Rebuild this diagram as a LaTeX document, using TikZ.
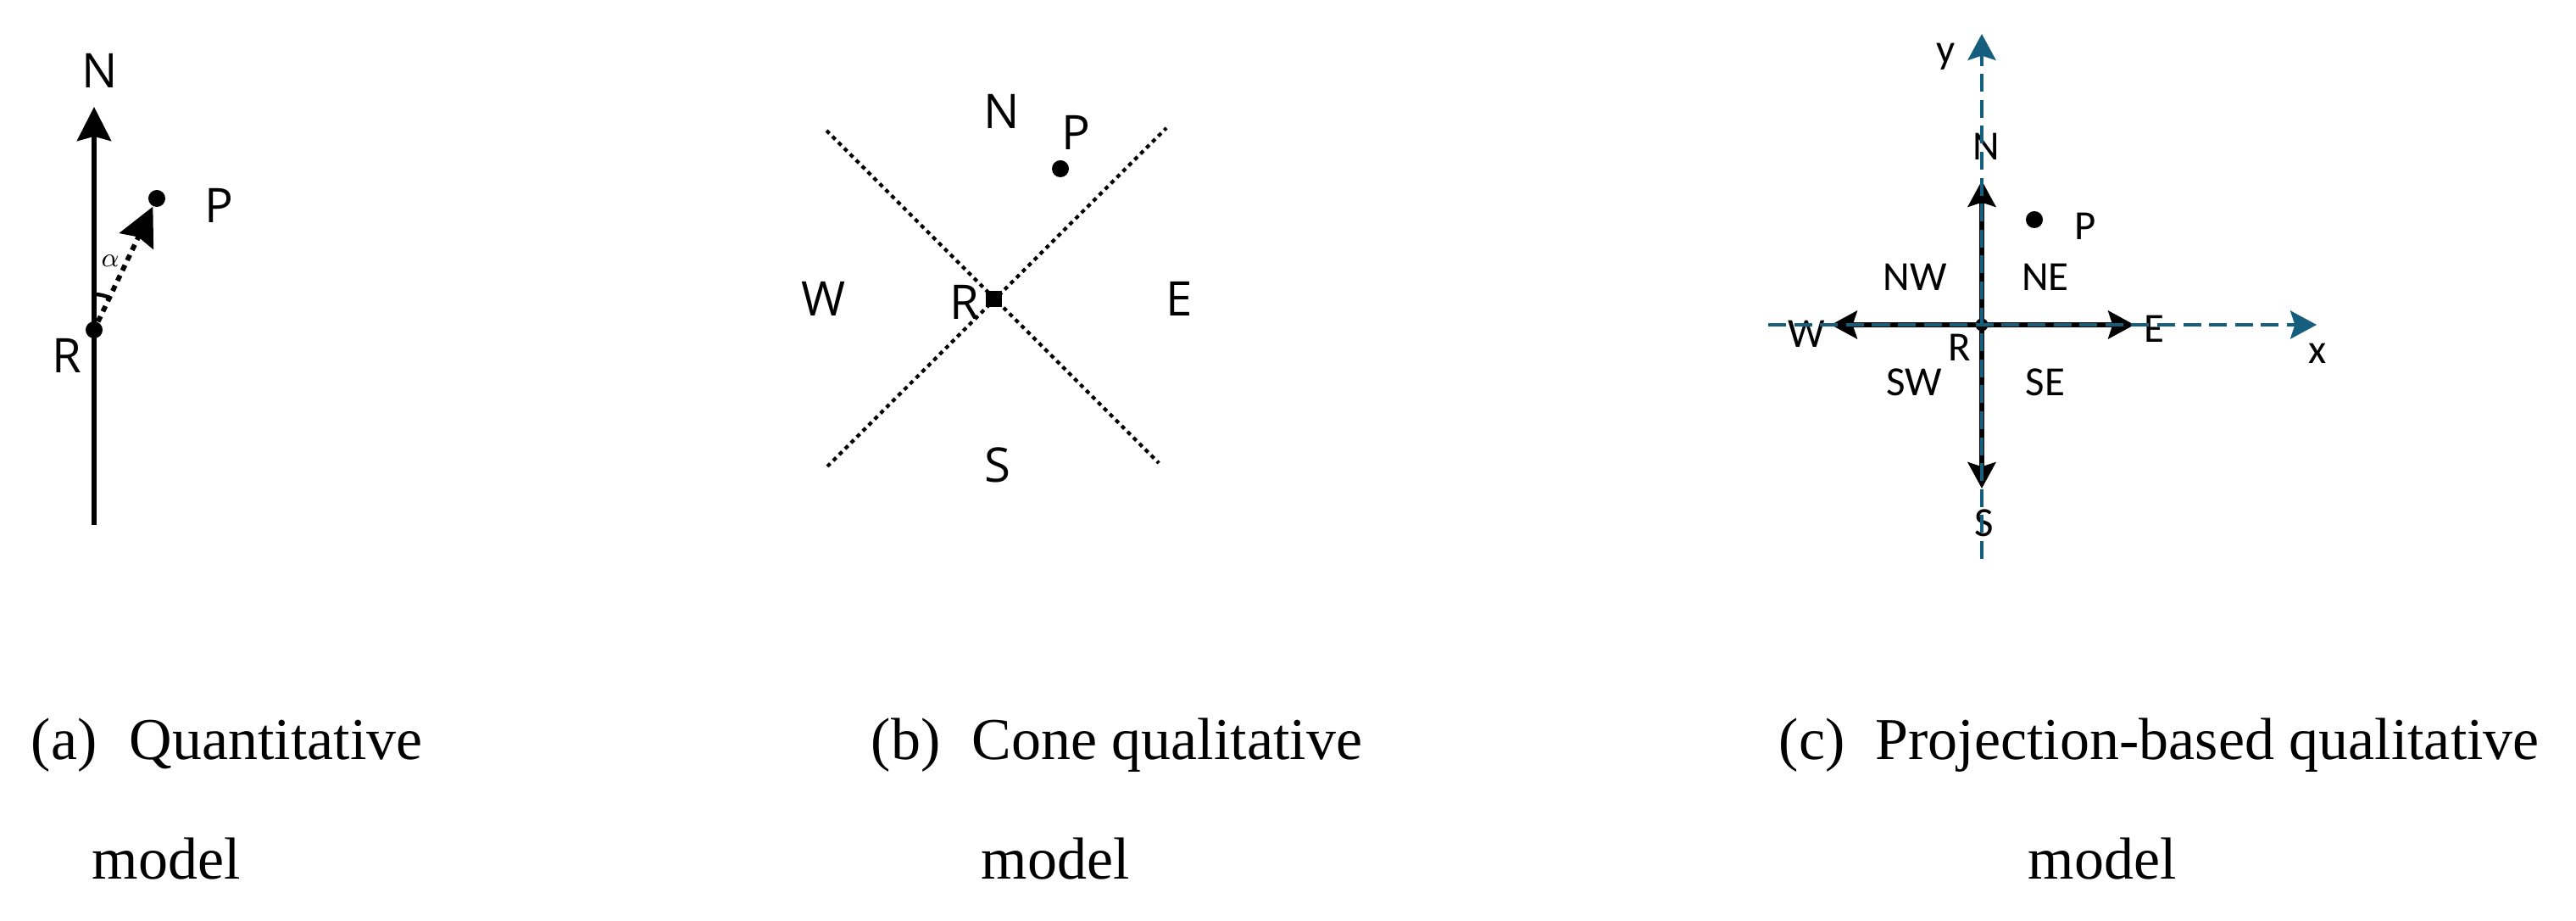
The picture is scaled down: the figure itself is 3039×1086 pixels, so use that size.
\documentclass[tikz,border=0pt]{standalone}
\usepackage{fontspec}
\setmainfont{Liberation Serif}
\newfontfamily\dirfont{Open Sans}
\newfontfamily\projfont{Carlito}
\usetikzlibrary{arrows.meta}
\definecolor{axisblue}{RGB}{22,94,126}

\begin{document}
\begin{tikzpicture}[x=0.01cm,y=-0.01cm,
  caption/.style={font=\fontsize{19.9}{23}\selectfont, inner sep=0pt, anchor=base west},
  dirlabel/.style={font=\dirfont\fontsize{16}{19}\selectfont, inner sep=0pt},
  projlabel/.style={font=\projfont\fontsize{13.9}{16}\selectfont, inner sep=0pt},
  dot/.style={circle, fill=black, inner sep=0pt, minimum size=0.2cm},
  cone/.style={line width=1.2pt, dash pattern=on 1.4pt off 1.4pt},
  dirarrow/.style={line width=1.5pt, -{Stealth[length=8.8pt,width=9.4pt,inset=1.5pt]}},
  axis/.style={axisblue, line width=1.1pt, dash pattern=on 6pt off 2.7pt, -{Stealth[length=8.8pt,width=9.4pt,inset=1.5pt]}}]
				\useasboundingbox (0,0) rectangle (3039,1086);
				
				% (a) quantitative
				\coordinate (aS) at (111,619);
				\coordinate (aN) at (111,126);
				\draw[line width=1.65pt, -{Stealth[length=11.4pt,width=11.4pt,inset=1.5pt]}] (aS) -- (aN);
				\node[dot] (aR) at (111,389) {};
				\node[dot] (aP) at (185,234) {};
				\draw[line width=1.65pt, dash pattern=on 2pt off 1.8pt, -{Stealth[length=12.8pt,width=12.5pt,inset=1.5pt]}] (aR) -- (aP);
				\draw[line width=1.25pt] (aR.center) ++(0,-42) arc[start angle=-90, end angle=-64.5, radius=42];
				\node[font=\fontsize{9.5}{11}\selectfont, inner sep=0pt] (aalpha) at (130,308) {$\alpha$};
				\node[dirlabel] (aNlab) at (118,83) {N};
				\node[dirlabel] (aRlab) at (79,419) {R};
				\node[dirlabel] (aPlab) at (258,242) {P};
				
				% (b) cone
				\coordinate (bNW) at (975,154);
				\coordinate (bSE) at (1367,546);
				\coordinate (bSW) at (976,550);
				\coordinate (bNE) at (1376,151);
				\draw[cone] (bNW) -- (bSE);
				\draw[cone] (bSW) -- (bNE);
				\node[fill=black, inner sep=0pt, minimum size=0.19cm] (bR) at (1172,353) {};
				\node[dot] (bP) at (1251,199) {};
				\node[dirlabel] (bNlab) at (1182,131) {N};
				\node[dirlabel] (bPlab) at (1269,156) {P};
				\node[dirlabel] (bWlab) at (972,352) {W};
				\node[dirlabel] (bElab) at (1391,352) {E};
				\node[dirlabel] (bSlab) at (1177,548) {S};
				\node[dirlabel] (bRlab) at (1138,356) {R};
				
				% (c) projection
				\coordinate (cR) at (2338,383);
				\coordinate (cNtip) at (2338,213);
				\coordinate (cStip) at (2338,576);
				\coordinate (cWtip) at (2160,383);
				\coordinate (cEtip) at (2518,383);
				\draw[dirarrow] (cR) -- (cNtip);
				\draw[dirarrow] (cR) -- (cStip);
				\draw[dirarrow] (cR) -- (cWtip);
				\draw[dirarrow] (cR) -- (cEtip);
				\node[circle, fill=black, inner sep=0pt, minimum size=0.15cm] (cRdot) at (cR) {};
				\node[dot] (cP) at (2400,259) {};
				\node[projlabel] (cNlab) at (2343,173) {N};
				\node[projlabel] (cSlab) at (2341,617) {S};
				\node[projlabel] (cWlab) at (2131,394) {W};
				\node[projlabel] (cElab) at (2541,388) {E};
				\node[projlabel] (cNWlab) at (2259,327) {NW};
				\node[projlabel] (cNElab) at (2413,327) {NE};
				\node[projlabel] (cSWlab) at (2258,451) {SW};
				\node[projlabel] (cSElab) at (2413,451) {SE};
				\node[projlabel] (cRlab) at (2312,410) {R};
				\node[projlabel] (cPlab) at (2460,267) {P};
				\node[projlabel] (cylab) at (2296,67) {y};
				\node[projlabel] (cxlab) at (2734,417) {x};
				\coordinate (cxstart) at (2086,383);
				\coordinate (cxtip) at (2733,383);
				\coordinate (cystart) at (2338,659);
				\coordinate (cytip) at (2338,40);
				\draw[axis] (cxstart) -- (cxtip);
				\draw[axis] (cystart) -- (cytip);
				
				% captions
				\node[caption] (capa) at (36,896) {(a)};
				\node[caption] (capatext) at (152,896) {Quantitative};
				\node[caption] (capamodel) at (108,1037) {model};
				\node[caption] (capb) at (1027,896) {(b)};
				\node[caption] (capbtext) at (1146,896) {Cone qualitative};
				\node[caption] (capbmodel) at (1157,1037) {model};
				\node[caption] (capc) at (2098,896) {(c)};
				\node[caption] (capctext) at (2212,896) {Projection-based qualitative};
				\node[caption] (capcmodel) at (2392,1037) {model};
			\end{tikzpicture}
\end{document}
